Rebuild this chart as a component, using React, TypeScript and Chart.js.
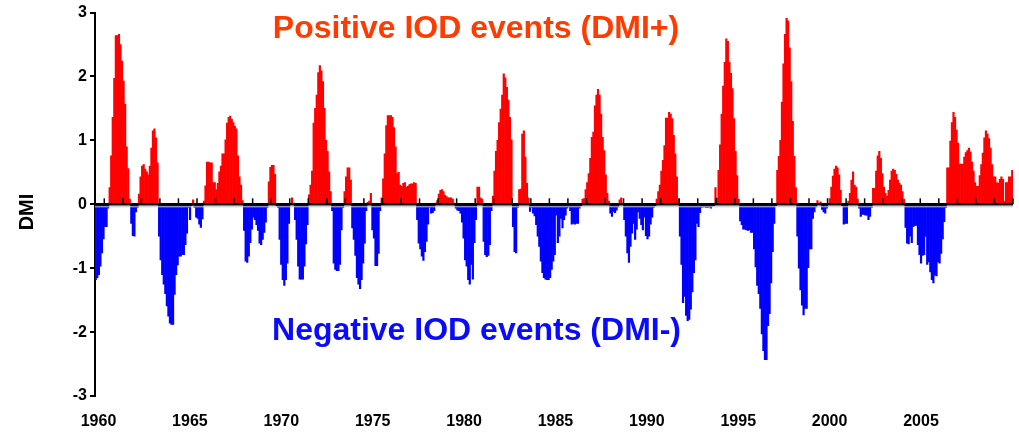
import React, { useEffect, useRef } from 'react';
import { Chart, registerables } from 'chart.js';

Chart.register(...registerables);

const FONT = 'Arial, "Liberation Sans", sans-serif';

// Monthly Dipole Mode Index, first value = July 1960
const FIRST_MONTH = 1960.5;

const dmi1960s = [
  -1.18, -1.15, -1.1, -0.97, -0.76, -0.54,
  -0.35, -0.35, -0.06, 0.26, 0.76, 1.36, 1.97, 2.64, 2.64, 2.66, 2.5, 2.24,
  1.93, 1.57, 0.9, 0.56, 0.08, -0.3, -0.49, -0.5, -0.12, -0.05, 0.16, 0.43,
  0.6, 0.62, 0.55, 0.51, 0.46, 0.6, 0.88, 1.15, 1.18, 1.04, 0.65, -0.5,
  -0.87, -1.1, -1.25, -1.4, -1.59, -1.75, -1.86, -1.88, -1.88, -1.41, -1.1, -0.95,
  -0.81, -0.81, -0.79, -0.79, -0.63, -0.45, -0.05, -0.24, -0.02, 0.07, -0.05, -0.2,
  -0.22, -0.31, -0.36, -0.23, 0.05, 0.29, 0.66, 0.66, 0.65, 0.65, 0.34, 0.34,
  0.23, 0.33, 0.51, 0.6, 0.79, 0.79, 1.01, 1.27, 1.36, 1.38, 1.33, 1.28,
  1.22, 1.18, 0.76, 0.43, 0.3, 0.06, -0.41, -0.89, -0.91, -0.81, -0.6, -0.39,
  -0.2, -0.24, -0.32, -0.41, -0.61, -0.63, -0.55, -0.44, -0.28, -0.05, 0.35, 0.58,
];

const dmi1970s = [
  0.61, 0.61, 0.47, -0.02, -0.05, -0.55, -0.94, -1.18, -1.27, -1.18, -0.92, -0.3,
  0.02, 0.1, 0.02, -0.24, -0.55, -0.97, -1.17, -1.17, -1.17, -0.97, -0.62, -0.32,
  0.15, 0.3, 0.52, 1.27, 1.5, 1.71, 2.06, 2.17, 2.09, 1.92, 1.5, 1.0,
  0.83, 0.51, 0.2, -0.1, -0.92, -1.02, -1.04, -1.04, -0.94, -0.4, -0.05, 0.2,
  0.43, 0.57, 0.57, 0.38, -0.37, -0.55, -0.8, -1.15, -1.25, -1.32, -1.18, -0.92,
  -0.61, -0.1, 0.03, 0.05, 0.17, -0.4, -0.53, -0.96, -0.96, -0.77, -0.1, 0.1,
  0.4, 0.79, 1.23, 1.39, 1.39, 1.39, 1.36, 1.2, 0.9, 0.48, 0.5, 0.3,
  0.28, 0.33, 0.34, 0.27, 0.28, 0.31, 0.32, 0.32, 0.34, 0.33, -0.24, -0.61,
  -0.7, -0.81, -0.88, -0.74, -0.58, -0.31, -0.05, -0.14, -0.13, -0.1, 0.02, 0.06,
  0.16, 0.22, 0.23, 0.2, 0.14, 0.12, 0.1, 0.1, 0.1, 0.08, 0.02, -0.06,
];

const dmi1980s = [
  -0.09, -0.1, -0.14, -0.28, -0.53, -0.87, -0.97, -1.18, -1.25, -0.94, -1.17, -0.6,
  -0.24, 0.27, 0.27, 0.1, 0.08, -0.58, -0.79, -0.82, -0.8, -0.63, -0.1, 0.13,
  0.52, 0.83, 1.0, 1.28, 1.49, 1.71, 2.04, 1.98, 1.83, 1.63, 1.36, 1.01,
  -0.35, -0.74, -0.76, -0.05, 0.23, 0.24, 1.1, 1.15, 0.74, 0.33, 0.1, -0.11,
  -0.05, -0.14, -0.18, -0.32, -0.5, -0.66, -0.89, -1.07, -1.15, -1.17, -1.18, -1.18,
  -1.15, -1.02, -0.89, -0.79, -0.17, -0.6, -0.5, -0.22, -0.37, -0.24, -0.17, -0.06,
  -0.04, -0.1, -0.31, -0.3, -0.31, -0.3, -0.3, -0.06, -0.02, 0.08, 0.09, 0.23,
  0.34, 0.48, 0.72, 1.05, 1.13, 1.54, 1.71, 1.8, 1.71, 1.41, 1.05, 0.84,
  0.46, 0.17, 0.05, -0.14, -0.19, -0.11, -0.13, -0.09, -0.04, 0.07, 0.1, 0.02,
  -0.24, -0.5, -0.76, -0.91, -0.66, -0.45, -0.3, -0.55, -0.39, -0.12, -0.22, -0.32,
];

const dmi1990s = [
  -0.4, -0.2, -0.49, -0.54, -0.5, -0.31, -0.2, -0.05, -0.02, 0.08, 0.2, 0.3,
  0.52, 0.69, 0.92, 1.35, 1.35, 1.44, 1.41, 1.34, 1.08, 0.79, 0.43, 0.08,
  -0.5, -0.94, -1.54, -1.44, -1.74, -1.82, -1.8, -1.64, -1.37, -1.07, -0.87, -0.3,
  -0.35, -0.13, -0.05, -0.04, -0.04, -0.05, -0.05, -0.04, -0.06, -0.03, -0.02, 0.26,
  0.1, 0.53, 0.93, 1.41, 1.85, 2.22, 2.59, 2.55, 2.22, 2.05, 1.81, 1.34,
  0.83, 0.45, 0.08, -0.26, -0.32, -0.39, -0.39, -0.4, -0.41, -0.4, -0.44, -0.44,
  -0.7, -0.98, -1.27, -1.4, -1.63, -2.03, -2.29, -2.43, -2.43, -1.9, -1.71, -1.23,
  -0.74, -0.3, -0.02, 0.53, 0.75, 1.0, 1.6, 2.2, 2.66, 2.91, 2.87, 2.45,
  1.92, 1.3, 0.75, 0.26, -0.5, -1.0, -1.34, -1.58, -1.73, -1.63, -1.63, -0.99,
  -0.7, -0.7, -0.22, -0.12, -0.04, 0.06, 0.01, 0.04, -0.08, -0.12, -0.14, -0.06,
];

const dmi2000s = [
  0.02, 0.09, 0.27, 0.44, 0.55, 0.6, 0.57, 0.46, 0.22, -0.02, -0.31, -0.3,
  -0.3, 0.05, 0.17, 0.38, 0.51, 0.3, 0.27, 0.08, -0.06, -0.19, -0.16, -0.16,
  -0.17, -0.17, -0.24, -0.19, -0.05, 0.25, 0.25, 0.52, 0.76, 0.83, 0.72, 0.48,
  0.27, 0.17, 0.13, 0.22, 0.38, 0.52, 0.55, 0.53, 0.47, 0.38, 0.33, 0.3,
  0.2, 0.08, -0.36, -0.61, -0.62, -0.5, -0.6, -0.35, -0.33, -0.33, -0.63, -0.79,
  -0.92, -0.8, -0.79, -0.5, -0.94, -0.9, -1.06, -1.18, -1.23, -1.11, -1.12, -0.9,
  -0.92, -0.77, -0.54, -0.27, -0.05, 0.57, 0.57, 0.99, 1.28, 1.44, 1.36, 1.16,
  0.96, 0.63, 0.63, 0.63, 0.74, 0.81, 0.84, 0.88, 0.82, 0.66, 0.52, 0.34,
  0.28, 0.28, 0.45, 0.62, 0.8, 1.04, 1.15, 1.1, 1.03, 0.88, 0.62, 0.43,
  0.43, 0.34, 0.33, 0.39, 0.43, 0.39, 0.05, 0.34, 0.34, 0.43, 0.43, 0.53,
];

const DMI = [...dmi1960s, ...dmi1970s, ...dmi1980s, ...dmi1990s, ...dmi2000s];

const LABEL_YEARS = [1960, 1965, 1970, 1975, 1980, 1985, 1990, 1995, 2000, 2005];
const YEAR_MARKS = Array.from({ length: 50 }, (_, i) => 1961 + i);

const POSITIVE_TEXT = 'Positive IOD events (DMI+)';
const NEGATIVE_TEXT = 'Negative IOD events (DMI-)';
const AXIS_TITLE = 'DMI';

const POS_COLOR = '#ff0000';
const NEG_COLOR = '#0000ff';

// zero line with yearly marks, event captions and the y-axis title
const overlayPlugin = {
  id: 'dmiOverlay',
  afterDatasetsDraw(chart: any) {
    const { ctx, chartArea, scales } = chart;
    const xs = scales.x;
    const y0 = scales.y.getPixelForValue(0);
    ctx.save();
    ctx.strokeStyle = '#c4c4c4';
    ctx.lineWidth = 1;
    ctx.beginPath();
    ctx.moveTo(chartArea.left, y0 + 2.5);
    ctx.lineTo(chartArea.right, y0 + 2.5);
    ctx.stroke();

    ctx.strokeStyle = '#000';
    ctx.lineWidth = 2.5;
    ctx.beginPath();
    ctx.moveTo(chartArea.left, y0);
    ctx.lineTo(chartArea.right, y0);
    ctx.stroke();

    ctx.lineWidth = 1.5;
    for (const yr of YEAR_MARKS) {
      const px = xs.getPixelForValue(yr);
      ctx.beginPath();
      ctx.moveTo(px, y0);
      ctx.lineTo(px, y0 - 6);
      ctx.stroke();
    }

    ctx.textAlign = 'center';
    ctx.textBaseline = 'alphabetic';
    ctx.font = `bold 32px ${FONT}`;
    ctx.fillStyle = '#ff3c00';
    ctx.fillText(POSITIVE_TEXT, 476, 38);
    ctx.fillStyle = '#0a0aff';
    ctx.fillText(NEGATIVE_TEXT, 476.5, 340);

    ctx.translate(27, 212);
    ctx.rotate(-Math.PI / 2);
    ctx.textBaseline = 'middle';
    ctx.fillStyle = '#000';
    ctx.font = `bold 20px ${FONT}`;
    ctx.fillText(AXIS_TITLE, 0, 0);
    ctx.restore();
  },
};

export default function App() {
  const canvasRef = useRef<HTMLCanvasElement | null>(null);

  useEffect(() => {
    if (!canvasRef.current) return;
    const points = DMI.map((v, j) => ({ x: FIRST_MONTH + (j + 0.5) / 12, y: v }));
    const chart = new Chart(canvasRef.current, {
      type: 'bar',
      data: {
        datasets: [
          {
            data: points as any,
            backgroundColor: DMI.map((v) => (v >= 0 ? POS_COLOR : NEG_COLOR)),
            borderWidth: 0,
            barPercentage: 1,
            categoryPercentage: 1,
            xAxisID: 'x',
            yAxisID: 'y',
          },
        ],
      },
      options: {
        responsive: false,
        animation: false,
        devicePixelRatio: 1,
        layout: { padding: { top: 10, right: 6, left: 0, bottom: 0 } },
        plugins: { legend: { display: false }, tooltip: { enabled: false } },
        scales: {
          x: {
            type: 'linear',
            min: FIRST_MONTH,
            max: 2010,
            display: false,
            offset: false,
          },
          years: {
            type: 'linear',
            position: 'bottom',
            offset: false,
            min: 1959.8085,
            max: 2010.0325,
            grid: { display: false, drawTicks: false, offset: false },
            border: { display: false },
            afterBuildTicks: (scale: any) => {
              scale.ticks = LABEL_YEARS.map((v) => ({ value: v }));
            },
            afterFit: (scale: any) => {
              scale.height = 42;
            },
            ticks: {
              autoSkip: false,
              maxRotation: 0,
              padding: 16,
              color: '#000',
              font: { family: FONT, size: 16, weight: 'bold' },
              callback: (v: any) => String(v),
            },
          },
          y: {
            type: 'linear',
            min: -3,
            max: 3,
            afterFit: (scale: any) => {
              scale.width = 95;
            },
            grid: { drawOnChartArea: false, color: '#000', lineWidth: 2, tickLength: 5 },
            border: { color: '#000', width: 2 },
            ticks: {
              stepSize: 1,
              padding: 3,
              color: '#000',
              font: { family: FONT, size: 16, weight: 'bold' },
            },
          },
        },
      },
      plugins: [overlayPlugin],
    });
    return () => chart.destroy();
  }, []);

  return (
    <div style={{ position: 'fixed', left: 0, top: 0, width: 1019, height: 438, background: '#fff' }}>
      <canvas ref={canvasRef} width={1019} height={438} />
    </div>
  );
}
